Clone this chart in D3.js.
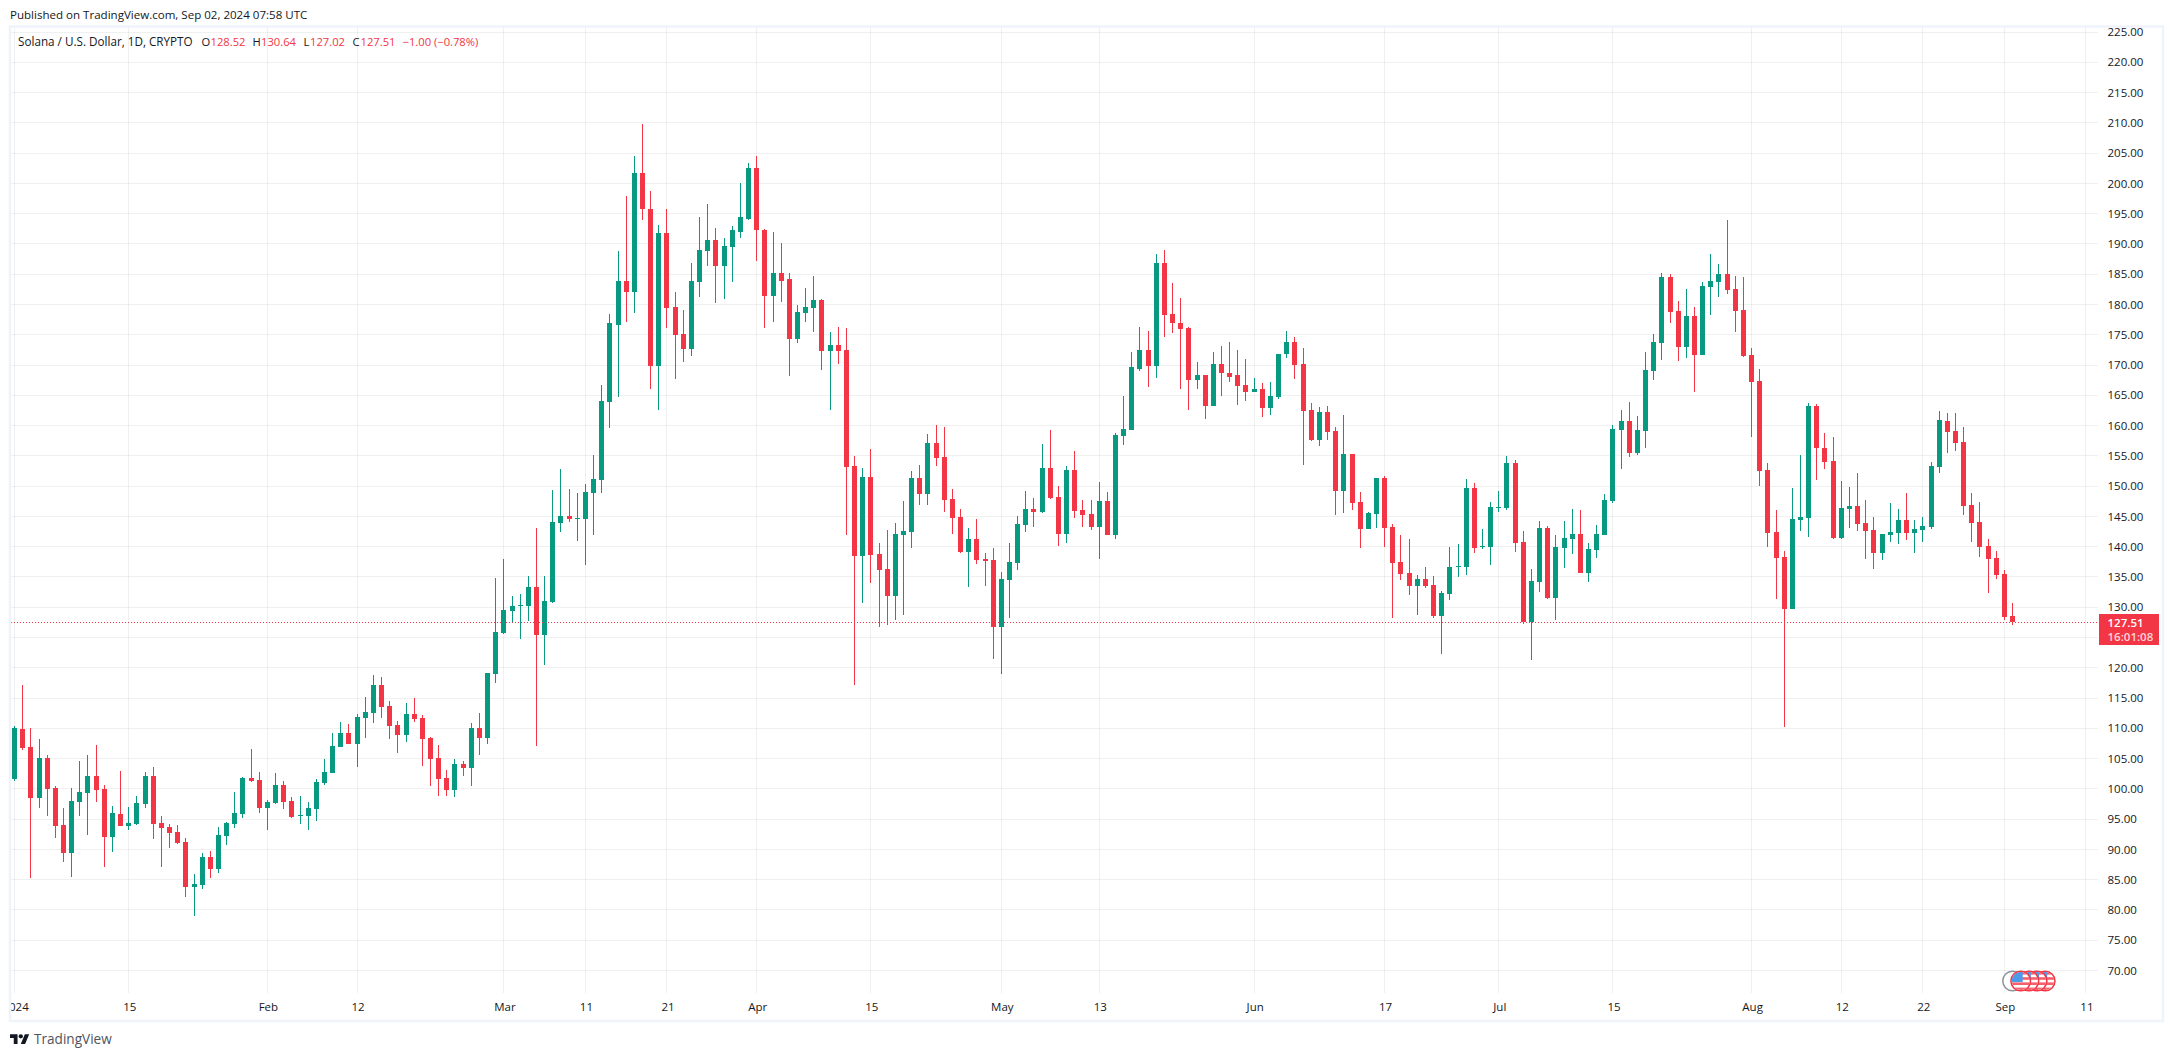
<!DOCTYPE html>
<html>
<head>
<meta charset="utf-8">
<style>
  html, body { margin: 0; padding: 0; background: #fff; overflow: hidden; }
  svg { display: block; }
  text { font-family: "Open Sans", sans-serif; }
</style>
</head>
<body>
<script src="https://cdn.jsdelivr.net/npm/d3@7/dist/d3.min.js"></script>
<script>
// Data: one entry per day from 2024-01-01
const open = [
  101.65,109.92,106.94,98.57,105.13,100.17,94.05,89.42,97.85,99.34,
  102.15,100.0,92.07,95.87,93.88,94.22,97.52,102.15,94.38,93.72,
  92.89,91.24,83.8,84.13,88.76,86.78,92.23,94.22,95.87,101.82,
  101.49,96.86,97.69,100.66,98.02,95.6,95.54,96.7,100.99,102.65,
  106.94,109.26,107.44,111.74,112.56,117.19,113.72,110.58,108.93,112.4,
  111.74,108.43,105.13,101.82,99.84,104.13,103.47,110.08,108.43,119.0,
  125.75,129.42,130.24,130.24,133.34,125.44,130.87,143.97,145.11,144.6,
  144.6,148.9,151.05,163.96,176.67,183.94,181.98,201.78,195.83,169.9,
  191.85,179.64,175.15,172.68,183.75,188.88,190.58,186.28,189.57,192.04,
  194.13,202.6,192.35,181.48,185.27,184.13,174.33,178.63,179.45,180.78,
  172.37,173.38,172.56,153.39,138.47,151.56,138.85,136.32,131.89,141.95,
  142.45,151.37,148.71,157.19,154.85,147.89,144.92,139.16,141.31,138.02,
  137.85,126.78,134.55,137.35,143.64,146.28,145.79,153.06,148.26,142.15,
  152.73,146.12,145.45,143.31,147.6,141.98,158.35,159.34,169.42,172.56,
  169.92,186.78,178.35,177.02,176.15,167.6,168.43,163.3,170.25,168.76,
  168.27,166.78,165.62,166.12,162.98,164.79,171.74,173.72,170.25,162.64,
  157.69,162.31,159.17,149.26,155.37,147.44,142.98,145.45,151.4,143.31,
  137.52,135.7,133.55,134.71,133.72,128.6,132.22,136.58,136.64,149.73,
  139.95,139.95,146.43,146.43,153.86,140.77,127.57,134.17,143.13,131.57,
  139.83,141.3,142.13,135.7,139.47,141.95,147.55,159.28,160.75,155.39,
  159.1,169.0,173.66,184.51,178.91,172.96,178.08,171.66,182.86,183.68,
  185.04,182.56,179.08,171.66,167.36,152.68,142.42,138.3,129.75,144.43,
  144.78,163.23,156.33,154.15,141.42,146.25,146.72,143.96,142.77,139.0,
  141.95,142.3,144.43,142.3,142.77,143.25,153.23,160.83,159.18,157.36,
  146.94,144.13,140.17,138.18,135.54,128.52
];
const high = [
  110.3,117.2,110.08,108.27,105.62,100.5,96.86,100.17,104.63,105.62,
  107.27,100.66,97.19,102.98,97.03,98.84,102.81,103.64,95.54,94.22,
  94.05,91.9,85.95,89.42,89.75,93.72,94.55,99.5,101.99,106.61,
  102.81,98.18,102.65,101.32,98.68,98.84,97.85,101.65,104.96,109.26,
  111.08,110.75,112.4,115.21,118.84,118.51,114.55,111.24,114.22,115.04,
  112.23,108.6,107.27,103.14,104.96,104.63,110.91,112.56,119.2,134.86,
  137.96,131.89,132.2,135.18,143.0,135.18,149.41,152.89,149.53,148.9,
  150.36,155.16,166.74,178.5,188.88,197.98,204.44,209.88,198.68,193.18,
  195.71,181.98,179.01,186.92,194.5,196.66,192.67,190.9,193.0,200.13,
  203.3,204.44,192.4,192.04,190.2,185.27,179.96,182.8,184.77,180.97,
  175.53,176.35,176.04,155.04,153.01,156.18,140.62,142.77,143.97,147.57,
  152.51,153.52,158.64,160.16,159.78,149.53,146.24,143.08,144.6,139.01,
  139.83,135.87,140.66,145.12,149.26,148.1,157.02,159.34,150.08,153.39,
  155.87,147.77,147.77,150.74,149.09,158.79,164.96,172.23,176.2,175.54,
  188.26,188.93,183.47,180.99,176.2,170.58,168.43,172.23,173.22,173.88,
  172.56,171.07,167.93,167.11,167.27,171.9,175.7,174.55,172.89,163.8,
  163.14,163.31,159.83,161.82,155.37,149.09,145.79,151.4,151.74,143.8,
  141.98,141.32,135.37,136.69,135.21,132.73,139.95,140.48,151.2,150.55,
  142.95,147.37,149.2,154.98,154.33,142.6,136.35,144.25,143.42,141.95,
  144.25,146.25,146.08,140.65,143.6,148.73,160.1,162.58,163.88,161.58,
  172.13,175.14,185.22,185.04,180.56,182.56,179.56,183.68,188.34,186.69,
  193.94,184.68,184.51,172.84,169.36,153.86,146.08,139.3,149.73,155.15,
  163.76,163.58,158.81,158.1,150.85,149.85,152.21,147.73,144.9,142.13,
  147.25,146.25,148.9,144.43,144.9,153.97,162.48,162.15,162.15,159.84,
  148.93,147.44,141.32,139.34,136.2,130.64
];
const low = [
  101.3,106.34,85.29,96.86,95.54,91.9,87.94,85.46,95.54,92.4,
  97.85,87.11,89.59,93.8,93.22,94.1,96.86,91.74,87.11,90.25,
  90.91,82.15,79.01,83.47,85.29,86.12,90.75,93.56,95.21,101.16,
  96.03,93.22,97.52,96.7,95.21,94.22,93.22,94.71,100.66,102.6,
  106.9,107.4,103.64,108.43,110.91,111.74,108.27,105.95,107.77,111.08,
  103.8,100.5,98.84,98.84,98.68,102.15,100.5,105.62,107.44,117.47,
  125.6,127.52,124.74,127.7,107.0,120.44,130.68,142.45,144.09,141.0,
  137.0,141.95,148.9,159.65,164.78,177.17,178.63,194.0,166.1,162.63,
  176.04,167.75,170.53,171.55,181.16,186.41,180.27,180.97,183.63,191.03,
  193.94,187.23,176.16,177.17,180.46,168.26,173.7,177.17,175.53,169.2,
  162.63,170.22,141.95,117.15,130.68,134.04,126.76,127.14,127.9,128.72,
  139.79,146.94,146.94,153.39,145.74,142.13,138.97,133.34,137.14,133.55,
  121.49,119.01,128.26,136.2,142.48,143.31,145.62,147.9,140.17,140.66,
  144.79,143.31,142.81,138.02,141.9,141.32,156.86,159.3,168.93,166.45,
  167.93,174.55,175.21,166.12,162.64,166.12,161.16,163.2,164.96,167.27,
  163.47,164.13,165.5,161.49,161.82,164.46,171.24,167.77,153.55,157.52,
  156.69,157.69,145.29,145.62,146.12,139.83,142.9,143.14,140.0,128.26,
  134.55,132.07,128.76,133.22,128.26,122.31,131.22,134.99,135.35,139.0,
  139.65,137.0,145.72,146.08,139.12,127.27,121.32,132.52,131.4,127.92,
  136.53,138.83,135.6,134.17,138.18,141.9,147.25,152.85,154.8,155.2,
  156.33,167.53,170.83,176.96,170.66,171.19,165.53,171.6,178.26,181.21,
  181.74,175.43,171.4,158.04,150.02,139.95,131.4,110.18,129.63,142.6,
  141.6,151.03,152.85,141.3,141.3,143.13,142.6,138.0,136.35,137.82,
  140.77,140.48,141.12,139.0,140.77,142.95,152.23,155.54,155.87,145.29,
  140.83,138.35,132.4,134.71,127.94,127.02
];
const close = [
  110.08,106.83,98.57,105.13,100.0,93.88,89.42,98.02,99.5,102.15,
  99.84,92.07,96.03,93.88,94.38,97.69,102.15,94.22,93.56,92.73,
  91.08,83.8,84.3,88.76,86.78,92.4,94.38,96.03,101.82,101.32,
  96.86,97.85,100.66,97.85,95.37,95.7,96.86,101.16,102.81,107.11,
  109.26,107.44,111.9,112.73,117.19,113.56,110.41,108.93,112.4,111.57,
  108.27,104.96,101.65,99.84,104.13,103.47,110.08,108.43,119.17,125.94,
  129.55,130.24,130.3,133.34,125.44,131.06,144.09,145.11,144.6,144.73,
  149.09,151.24,164.08,176.86,183.94,181.98,201.78,195.71,169.9,191.85,
  179.45,175.02,172.68,183.94,189.07,190.58,186.28,189.7,192.23,194.38,
  202.6,192.23,181.48,185.27,183.94,174.33,178.82,179.64,180.78,172.37,
  173.38,172.37,153.2,138.47,151.56,138.66,136.19,131.89,142.13,142.64,
  151.37,148.71,157.19,154.66,147.76,144.79,139.16,141.31,137.83,137.69,
  126.78,134.71,137.52,143.8,146.28,145.79,153.06,148.1,142.15,152.73,
  145.95,145.29,143.31,147.6,141.98,158.51,159.5,169.59,172.56,169.92,
  186.78,178.18,176.86,176.03,167.6,168.43,163.3,170.25,168.6,168.1,
  166.61,165.62,166.12,162.98,164.96,171.9,173.72,170.08,162.48,157.69,
  162.31,159.01,149.26,155.37,147.27,142.98,145.62,151.4,143.14,137.35,
  135.54,133.55,134.71,133.55,128.6,132.4,136.64,136.82,149.73,139.83,
  140.12,146.55,146.55,153.86,140.65,127.57,134.35,143.13,131.57,139.95,
  141.48,142.13,135.7,139.65,142.13,147.73,159.46,160.75,155.51,159.28,
  169.18,173.78,184.51,178.73,172.96,178.08,171.66,183.03,183.86,185.04,
  182.39,178.91,171.48,167.18,152.5,142.3,138.18,129.75,144.6,144.9,
  163.23,156.33,153.97,141.42,146.43,146.78,143.78,142.6,139.0,142.13,
  142.42,144.43,142.3,142.95,143.42,153.33,160.99,159.01,157.19,146.78,
  143.97,140.0,138.02,135.37,128.43,127.51
];

const tickDates = ['2024-01-01', '2024-01-15', '2024-02-01', '2024-02-12', '2024-03-01', '2024-03-11', '2024-03-21',
  '2024-04-01', '2024-04-15', '2024-05-01', '2024-05-13', '2024-06-01', '2024-06-17', '2024-07-01', '2024-07-15',
  '2024-08-01', '2024-08-12', '2024-08-22', '2024-09-01', '2024-09-11'];
const tickLabels = ['2024', '15', 'Feb', '12', 'Mar', '11', '21', 'Apr', '15', 'May', '13', 'Jun', '17', 'Jul', '15',
  'Aug', '12', '22', 'Sep', '11'];
const priceTicks = [70, 75, 80, 85, 90, 95, 100, 105, 110, 115, 120, 125, 130, 135, 140, 145, 150, 155, 160, 165, 170,
  175, 180, 185, 190, 195, 200, 205, 210, 215, 220, 225];
const hiddenPriceLabel = 125; // sits behind the last price box
const greyEventDate = '2024-09-02';
const flagEventDates = ['2024-09-06', '2024-09-05', '2024-09-04', '2024-09-03']; // leftmost one drawn last

const lastPrice = 127.51;
const countdown = '16:01:08';

// Constants
const width = 2174;
const height = 1057;
const paneLeft = 11;
const paneRight = 2098;
const paneBottom = 993;
const markerY = 981;
const green = '#089981';
const red = '#F23645';
const textColor = '#131722';
const gridColor = 'rgba(42, 46, 57, 0.07)';

const parseDay = d3.utcParse('%Y-%m-%d');
const firstDay = parseDay('2024-01-01');
const candles = open.map((o, i) => ({
  date: d3.utcDay.offset(firstDay, i), o, h: high[i], l: low[i], c: close[i]
}));

// Scales
const x = d3.scaleUtc()
.domain([firstDay, parseDay('2024-09-01')])
.range([14.6, 2004.4]);

const y = d3.scaleLinear()
.domain([70, 225])
.range([970.5, 32]);

const col = date => Math.floor(x(date));
const row = value => Math.round(y(value));

const svg = d3.select('body')
.append('svg')
.attr('width', width)
.attr('height', height);

const defs = svg.append('defs');

defs.append('clipPath')
.attr('id', 'pane-clip')
.append('rect')
.attr('x', paneLeft)
.attr('y', 27)
.attr('width', width - paneLeft)
.attr('height', 993);

defs.append('clipPath')
.attr('id', 'flag-clip')
.append('circle')
.attr('r', 9);

// Grid
svg.append('g')
.selectAll('line')
.data(priceTicks)
.enter()
.append('line')
.attr('x1', paneLeft)
.attr('x2', paneRight)
.attr('y1', d => Math.floor(y(d)) + 0.5)
.attr('y2', d => Math.floor(y(d)) + 0.5)
.attr('stroke', gridColor);

svg.append('g')
.selectAll('line')
.data(tickDates.map(parseDay))
.enter()
.append('line')
.attr('x1', d => col(d) + 0.5)
.attr('x2', d => col(d) + 0.5)
.attr('y1', 27)
.attr('y2', paneBottom)
.attr('stroke', gridColor);

// Candles
const candleGroup = svg.append('g');

candleGroup.selectAll('rect.wick')
.data(candles)
.enter()
.append('rect')
.attr('class', 'wick')
.attr('x', d => col(d.date))
.attr('y', d => row(d.h))
.attr('width', 1)
.attr('height', d => Math.max(1, row(d.l) - row(d.h)))
.attr('fill', d => d.c >= d.o ? green : red);

candleGroup.selectAll('rect.body')
.data(candles)
.enter()
.append('rect')
.attr('class', 'body')
.attr('x', d => col(d.date) - 2)
.attr('y', d => row(Math.max(d.o, d.c)))
.attr('width', 5)
.attr('height', d => Math.max(1, row(Math.min(d.o, d.c)) - row(Math.max(d.o, d.c))))
.attr('fill', d => d.c >= d.o ? green : red);

// Last price line
svg.append('line')
.attr('x1', paneLeft)
.attr('x2', paneRight)
.attr('y1', Math.floor(y(lastPrice)) + 0.5)
.attr('y2', Math.floor(y(lastPrice)) + 0.5)
.attr('stroke', red)
.attr('stroke-dasharray', '1 2');

// Axes
const yAxis = d3.axisRight(y)
.tickValues(priceTicks.filter(d => d !== hiddenPriceLabel))
.tickFormat(d3.format('.2f'))
.tickSize(0)
.tickPadding(0);

const yAxisGroup = svg.append('g')
.attr('transform', 'translate(2107.5, 0)')
.call(yAxis);

yAxisGroup.select('.domain').remove();
yAxisGroup.selectAll('text')
.attr('font-family', '"Open Sans", sans-serif')
.attr('font-size', 11.5)
.attr('fill', textColor);

const xAxis = d3.axisBottom(x)
.tickValues(tickDates.map(parseDay))
.tickFormat((d, i) => tickLabels[i])
.tickSize(0)
.tickPadding(0);

const xAxisGroup = svg.append('g')
.attr('clip-path', 'url(#pane-clip)')
.append('g')
.attr('transform', 'translate(0.5, 1003)')
.call(xAxis);

xAxisGroup.select('.domain').remove();
xAxisGroup.selectAll('text')
.attr('font-family', '"Open Sans", sans-serif')
.attr('font-size', 11.5)
.attr('fill', textColor);

// Last price label
const priceLabel = svg.append('g');

priceLabel.append('rect')
.attr('x', 2099)
.attr('y', 614)
.attr('width', 60)
.attr('height', 31)
.attr('fill', red);

priceLabel.append('text')
.text(lastPrice.toFixed(2))
.attr('x', 2107.5)
.attr('y', 626.5)
.attr('font-size', 11.5)
.attr('font-weight', 600)
.attr('fill', '#fff');

priceLabel.append('text')
.text(countdown)
.attr('x', 2107.5)
.attr('y', 641)
.attr('font-size', 11.5)
.attr('font-weight', 600)
.attr('fill', '#fff')
.attr('fill-opacity', 0.8);

// Event markers
svg.append('circle')
.attr('cx', x(parseDay(greyEventDate)))
.attr('cy', markerY)
.attr('r', 9.8)
.attr('fill', '#fff')
.attr('stroke', '#8f939c')
.attr('stroke-width', 1.5);

const markers = svg.append('g')
.selectAll('g')
.data(flagEventDates.map(parseDay))
.enter()
.append('g')
.attr('transform', d => `translate(${x(d)}, ${markerY})`);

markers.append('circle')
.attr('r', 9.8)
.attr('fill', '#fff')
.attr('stroke', red)
.attr('stroke-width', 1.5);

const flags = markers.append('g')
.attr('clip-path', 'url(#flag-clip)');

flags.selectAll('rect.stripe')
.data([0, 2, 4, 6])
.enter()
.append('rect')
.attr('class', 'stripe')
.attr('x', -10)
.attr('y', d => -9 + d * 2.6)
.attr('width', 20)
.attr('height', 2.6)
.attr('fill', '#f4606c');

flags.append('rect')
.attr('x', -10)
.attr('y', -9)
.attr('width', 12)
.attr('height', 10)
.attr('fill', '#4c9be8');

// Outer frame
svg.append('rect')
.attr('x', 10)
.attr('y', 26.5)
.attr('width', 2153)
.attr('height', 994.5)
.attr('fill', 'none')
.attr('stroke', '#f0f3fa')
.attr('stroke-width', 2.5);

// Header
svg.append('text')
.text('Published on TradingView.com, Sep 02, 2024 07:58 UTC')
.attr('x', 10)
.attr('y', 19)
.attr('font-size', 11.55)
.attr('fill', textColor);

svg.append('text')
.text('Solana / U.S. Dollar, 1D, CRYPTO')
.attr('x', 18)
.attr('y', 46)
.attr('font-size', 11.7)
.attr('fill', textColor);

const legendItems = [
  { label: 'O', x: 201.5, color: textColor },
  { label: '128.52', x: 210.5, color: red },
  { label: 'H', x: 252.5, color: textColor },
  { label: '130.64', x: 261, color: red },
  { label: 'L', x: 303.5, color: textColor },
  { label: '127.02', x: 310, color: red },
  { label: 'C', x: 352.5, color: textColor },
  { label: '127.51', x: 360.5, color: red },
  { label: '\u22121.00 (\u22120.78%)', x: 402.5, color: red }
];

svg.append('g')
.selectAll('text')
.data(legendItems)
.enter()
.append('text')
.text(d => d.label)
.attr('x', d => d.x)
.attr('y', 46)
.attr('font-size', 11.2)
.attr('fill', d => d.color);

// TradingView logo
const logo = svg.append('g')
.attr('transform', 'translate(10, 1032) scale(0.54)')
.attr('fill', '#131722');

logo.append('path')
.attr('d', 'M14 22H7V11H0V4h14v18zM28 22h-8l7.5-18h8L28 22z');

logo.append('circle')
.attr('cx', 20)
.attr('cy', 8)
.attr('r', 4);

svg.append('text')
.text('TradingView')
.attr('x', 34)
.attr('y', 1044)
.attr('font-family', 'Lato, sans-serif')
.attr('font-size', 13.6)
.attr('fill', '#50535e');
</script>
</body>
</html>
